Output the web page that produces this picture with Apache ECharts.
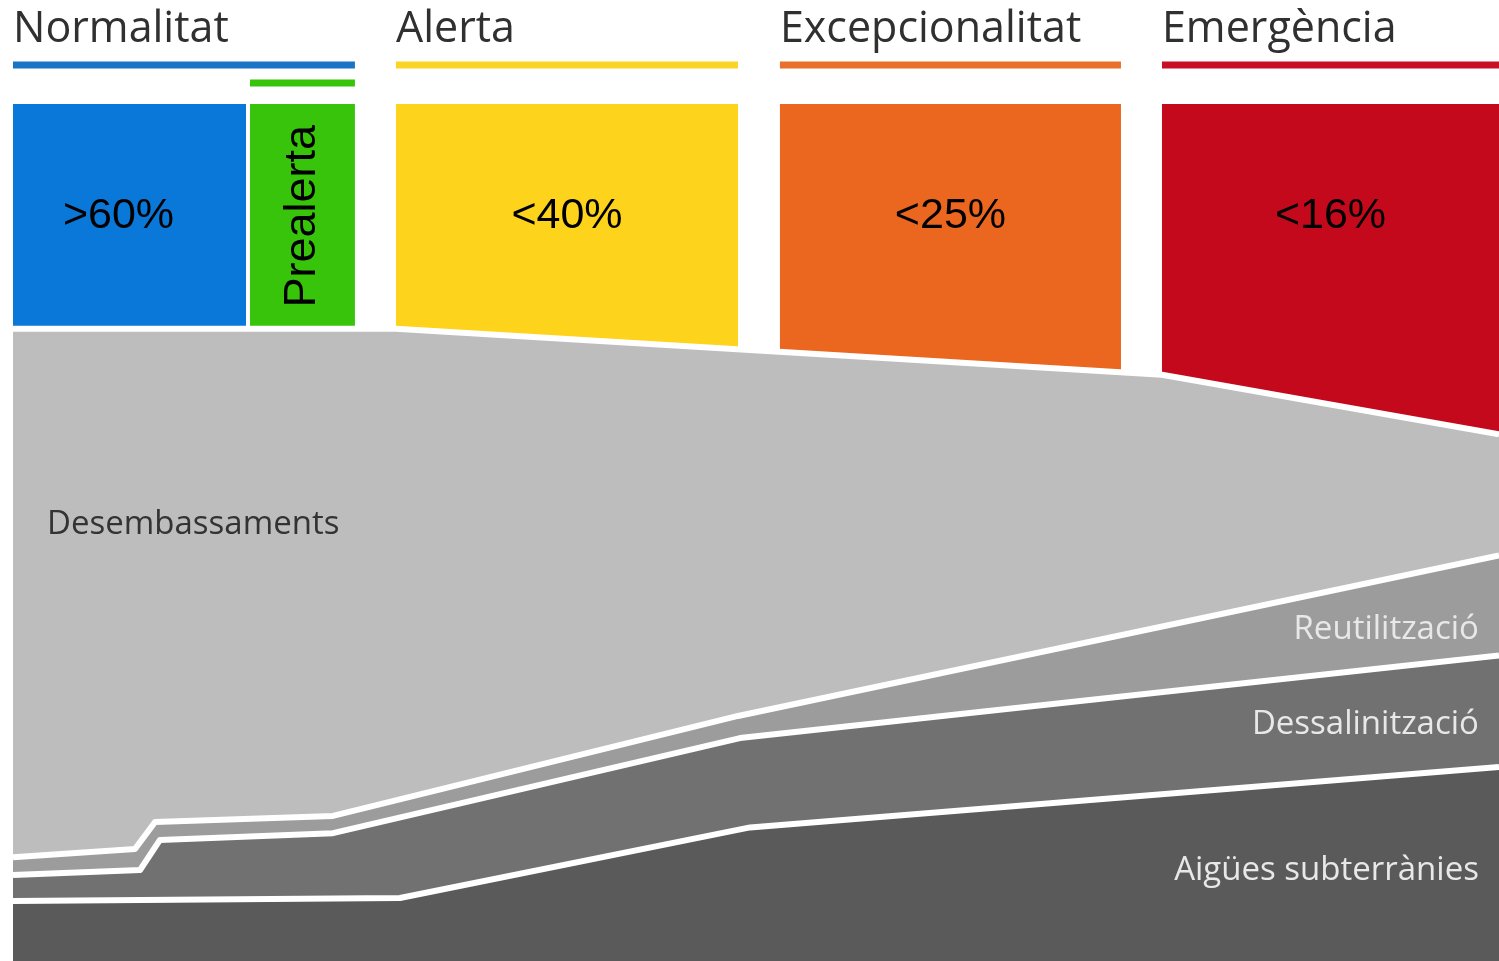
<!DOCTYPE html>
<html>
<head>
<meta charset="utf-8">
<script src="https://cdn.jsdelivr.net/npm/echarts@6/dist/echarts.min.js"></script>
<style>
html,body{margin:0;padding:0;background:#fff;}
#chart{width:1499px;height:961px;}
</style>
</head>
<body>
<div id="chart"></div>
<script>
// ---- Data (x: progression 0-100, y: level 0-100) ----
var phaseNames   = ['Normalitat', 'Alerta', 'Excepcionalitat', 'Emergència'];
var phaseStart   = [0, 25.77, 51.61, 77.32];
var phaseEnd     = [23.01, 48.79, 74.56, 100];
var phaseColors  = ['#1a74c6', '#fbd525', '#e9702a', '#c70f25'];

var blockNames   = ['Normalitat', 'Prealerta', 'Alerta', 'Excepcionalitat', 'Emergència'];
var blockLabels  = ['>60%', 'Prealerta', '<40%', '<25%', '<16%'];
var blockStart   = [0, 15.95, 25.77, 51.61, 77.32];
var blockEnd     = [15.68, 23.01, 48.79, 74.56, 100];
var blockColors  = ['#0a78d8', '#38c40a', '#fdd31b', '#eb661f', '#c4091d'];

var prealertaStart = 15.95, prealertaEnd = 23.01;

// boundary levels (top of each layer), [x, y]
var desembassamentsTop = [[0, 65.8], [25.77, 65.8], [77.32, 61.0], [100, 54.8]];
var reutilitzacioTop   = [[0, 10.8], [8.21, 11.65], [9.56, 14.46], [21.53, 15.1], [48.79, 25.5], [100, 42.2]];
var dessalinitzacioTop = [[0, 8.95], [8.55, 9.47], [9.89, 12.6], [21.53, 13.3], [48.92, 23.2], [100, 31.8]];
var aiguesTop          = [[0, 6.24], [26.04, 6.56], [49.6, 13.9], [100, 20.2]];

var layerNames  = ['Desembassaments', 'Reutilització', 'Dessalinització', 'Aigües subterrànies'];
var layerColors = ['#bebdbe', '#9c9c9c', '#717171', '#5a5a5a'];

// ---- Layout levels ----
var titleLevel = 96.9, headerLevel = 93.24, prealertaLevel = 91.36, blockTop = 89.18, blockLabelLevel = 77.5;

var chart = echarts.init(document.getElementById('chart'));

var headerData = phaseNames.map(function (n, i) {
  return { name: n, value: [phaseStart[i], phaseEnd[i], headerLevel, titleLevel], color: phaseColors[i], title: n };
});
headerData.push({ name: 'Prealerta', value: [prealertaStart, prealertaEnd, prealertaLevel, titleLevel], color: blockColors[1], title: '' });

var blockData = blockNames.map(function (n, i) {
  return { name: n, value: [blockStart[i], blockEnd[i], blockTop, 0], color: blockColors[i], label: blockLabels[i] };
});

function renderHeader(params, api) {
  var d = headerData[params.dataIndex];
  var p0 = api.coord([api.value(0), api.value(2)]);
  var p1 = api.coord([api.value(1), api.value(2)]);
  var pt = api.coord([api.value(0), api.value(3)]);
  var children = [{
    type: 'rect',
    shape: { x: p0[0], y: p0[1] - 3.5, width: p1[0] - p0[0], height: 7 },
    style: { fill: d.color }
  }];
  if (d.title) {
    children.push({
      type: 'text',
      style: {
        x: pt[0], y: pt[1], text: d.title,
        fill: '#303030', font: '43px "Open Sans"',
        textAlign: 'left', textVerticalAlign: 'middle'
      }
    });
  }
  return { type: 'group', children: children };
}

function renderBlock(params, api) {
  var d = blockData[params.dataIndex];
  var p0 = api.coord([api.value(0), api.value(2)]);
  var p1 = api.coord([api.value(1), api.value(3)]);
  var pc = api.coord([(api.value(0) + api.value(1)) / 2, blockLabelLevel]);
  var isPre = d.name === 'Prealerta';
  var dx = d.name === 'Normalitat' ? -11 : 0;
  return {
    type: 'group',
    children: [{
      type: 'rect',
      shape: { x: p0[0], y: p0[1], width: p1[0] - p0[0], height: p1[1] - p0[1] },
      style: { fill: d.color }
    }, {
      type: 'text',
      x: pc[0] + dx, y: pc[1],
      rotation: isPre ? Math.PI / 2 : 0,
      style: {
        x: 0, y: 0, text: d.label,
        fill: '#000', font: (isPre ? '45px' : '43px') + ' "Liberation Sans"',
        textAlign: 'center', textVerticalAlign: 'middle'
      }
    }]
  };
}

function areaSeries(name, data, color, labelPoint) {
  return {
    name: name,
    type: 'line',
    data: data,
    showSymbol: false,
    symbol: 'none',
    smooth: false,
    animation: false,
    silent: true,
    lineStyle: { color: '#fff', width: 6, join: 'round' },
    areaStyle: { color: color, opacity: 1 },
    markPoint: {
      symbol: 'circle', symbolSize: 0, silent: true, animation: false,
      data: [{ coord: labelPoint.coord, name: name }],
      label: {
        show: true, formatter: '{b}', position: labelPoint.position, distance: 0,
        color: labelPoint.color, fontFamily: 'Open Sans', fontSize: 33
      }
    }
  };
}

var option = {
  animation: false,
  grid: { left: 13, right: 0, top: 0, bottom: 0 },
  xAxis: { type: 'value', min: 0, max: 100, show: false },
  yAxis: { type: 'value', min: 0, max: 100, show: false },
  series: [
    {
      type: 'custom', name: 'capçaleres', renderItem: renderHeader,
      data: headerData, encode: { x: [0, 1], y: [2, 3] }, silent: true, clip: false
    },
    {
      type: 'custom', name: 'fases', renderItem: renderBlock,
      data: blockData, encode: { x: [0, 1], y: [2, 3] }, silent: true
    },
    areaSeries(layerNames[0], desembassamentsTop, layerColors[0], { coord: [2.29, 45.4], position: 'right', color: '#333' }),
    areaSeries(layerNames[1], reutilitzacioTop, layerColors[1], { coord: [98.65, 34.45], position: 'left', color: '#e8e8e8' }),
    areaSeries(layerNames[2], dessalinitzacioTop, layerColors[2], { coord: [98.65, 24.57], position: 'left', color: '#e8e8e8' }),
    areaSeries(layerNames[3], aiguesTop, layerColors[3], { coord: [98.65, 9.38], position: 'left', color: '#e8e8e8' })
  ]
};
chart.setOption(option);
</script>
</body>
</html>
